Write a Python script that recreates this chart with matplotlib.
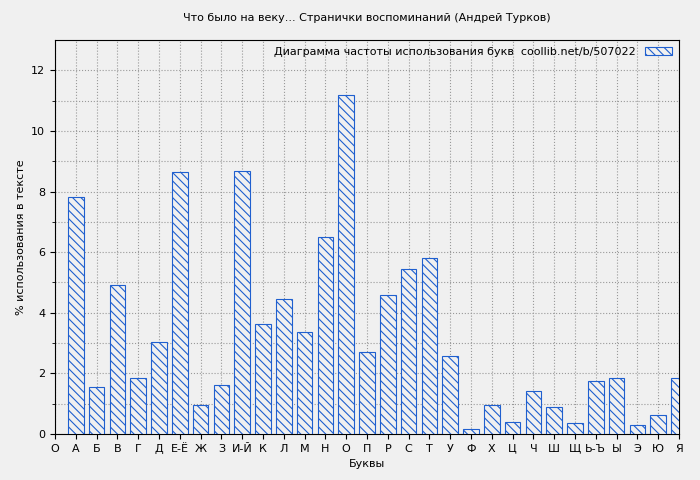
import matplotlib.pyplot as plt
import numpy as np

letters = ['А', 'Б', 'В', 'Г', 'Д', 'Е-Ё', 'Ж', 'З', 'И-Й', 'К', 'Л', 'М', 'Н', 'О', 'П',
           'Р', 'С', 'Т', 'У', 'Ф', 'Х', 'Ц', 'Ч', 'Ш', 'Щ', 'Ь-Ъ', 'Ы', 'Э', 'Ю', 'Я']
values = [7.83, 1.55, 4.9, 1.84, 3.03, 8.65, 0.95, 1.61, 8.68, 3.62, 4.47, 3.36, 6.51, 11.2, 2.7,
          4.57, 5.46, 5.82, 2.57, 0.16, 0.95, 0.39, 1.41, 0.89, 0.36, 1.74, 1.84, 0.3, 0.62, 1.84]

plt.rcParams['hatch.color'] = '#1f5fcf'
plt.rcParams['hatch.linewidth'] = 0.8
fig = plt.figure(figsize=(7, 4.8), dpi=100, facecolor='#f0f0f0')
ax = fig.add_axes([55 / 700, 46 / 480, 624 / 700, 394 / 480])
ax.set_facecolor('#f0f0f0')

x = np.arange(1, len(letters) + 1)
ax.bar(x, values, width=0.75, color='#f0f0f0', edgecolor='#1f5fcf', hatch='\\\\\\\\',
       linewidth=0.8, label='Диаграмма частоты использования букв  coollib.net/b/507022', zorder=3)

ax.set_xlim(0, 30)
ax.set_ylim(0, 13)
ax.set_xticks(np.arange(0, 31))
ax.set_xticklabels(['О'] + letters, fontsize=8)
ax.set_yticks(np.arange(0, 13, 2))
ax.set_yticks(np.arange(0, 13, 1), minor=True)
ax.tick_params(labelsize=8)
ax.grid(True, linestyle=':', color='#999999', linewidth=0.8, zorder=0)
ax.grid(True, which='minor', axis='y', linestyle=':', color='#999999', linewidth=0.8, zorder=0)
for s in ax.spines.values():
    s.set_color('black')

ax.set_title('Что было на веку... Странички воспоминаний (Андрей Турков)', fontsize=8, pad=14)
ax.set_xlabel('Буквы', fontsize=8)
ax.set_ylabel('% использования в тексте', fontsize=8)
leg = ax.legend(loc='upper right', fontsize=8, frameon=False, markerfirst=False,
                handlelength=2.5, borderaxespad=0.2)

fig.savefig('out.png', dpi=100, facecolor=fig.get_facecolor())
